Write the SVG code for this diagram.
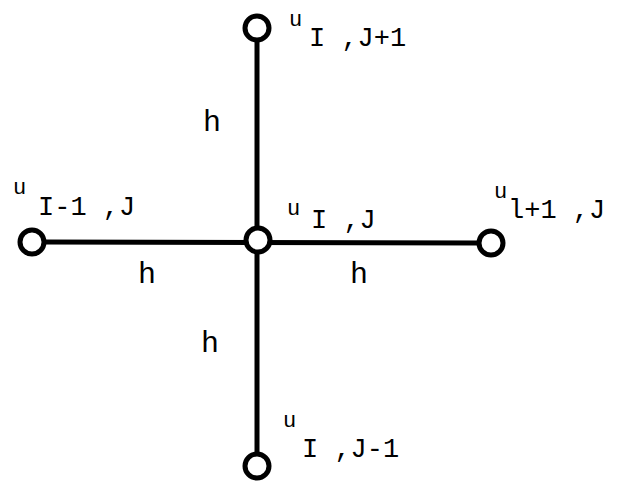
<svg xmlns="http://www.w3.org/2000/svg" width="629" height="491" viewBox="0 0 629 491">
<style>
.node{fill:#fff;stroke:#000;stroke-width:5}
.edge{stroke:#000;stroke-width:5;fill:none}
.sub{font-family:"Liberation Mono",monospace;font-size:27px;fill:#000}
.sup{font-family:"Liberation Mono",monospace;font-size:22px;fill:#000}
.h{font-family:"Liberation Mono",monospace;font-size:30px;fill:#000}
</style>
<rect width="629" height="491" fill="#fff"/>
<g id="connectors">
<line class="edge" x1="257" y1="40" x2="257" y2="454"/>
<line class="edge" x1="44" y1="242" x2="479" y2="243"/>
</g>
<g id="n-top">
<circle class="node" cx="257" cy="28" r="12"/>
<text class="sup" x="289" y="26">u</text>
<text class="sub" x="309" y="46" xml:space="preserve">I ,J+1</text>
</g>
<g id="n-left">
<circle class="node" cx="32" cy="242" r="12"/>
<text class="sup" x="13" y="194">u</text>
<text class="sub" x="38" y="215" xml:space="preserve">I-1 ,J</text>
</g>
<g id="n-center">
<circle class="node" cx="258" cy="240" r="12"/>
<text class="sup" x="287" y="215">u</text>
<text class="sub" x="311" y="228" xml:space="preserve">I ,J</text>
</g>
<g id="n-right">
<circle class="node" cx="491" cy="243" r="12"/>
<text class="sup" x="494" y="198">u</text>
<text class="sub" x="508" y="218" xml:space="preserve">l+1 ,J</text>
</g>
<g id="n-bottom">
<circle class="node" cx="257" cy="466" r="12"/>
<text class="sup" x="283" y="427">u</text>
<text class="sub" x="302" y="457" xml:space="preserve">I ,J-1</text>
</g>
<g id="labels">
<text class="h" x="203" y="131">h</text>
<text class="h" x="138" y="283">h</text>
<text class="h" x="350" y="283">h</text>
<text class="h" x="201" y="352">h</text>
</g>
</svg>
